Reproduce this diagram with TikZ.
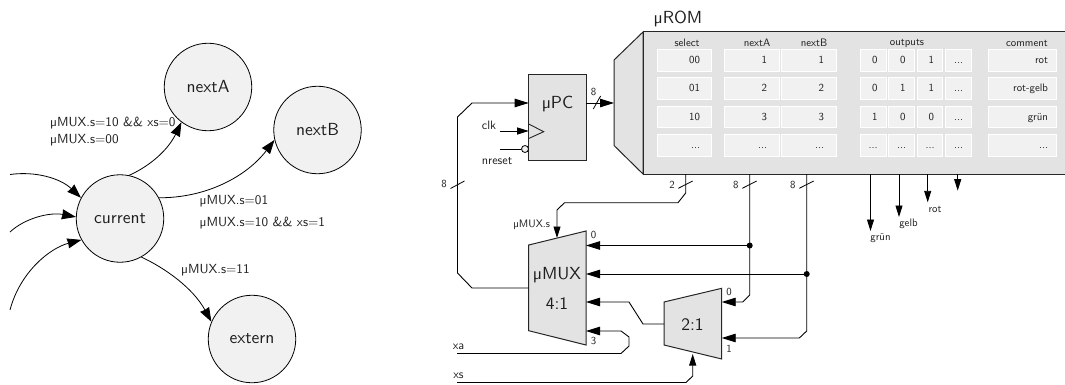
\documentclass[tikz,border=0pt]{standalone}
\usepackage{fontspec}
\usetikzlibrary{arrows.meta}
\setsansfont{lmsans10-regular.otf}
\renewcommand{\familydefault}{\sfdefault}
\definecolor{lightfill}{HTML}{F1F1F1}
\definecolor{blockfill}{HTML}{E3E3E3}
\definecolor{inkgray}{HTML}{1E1E1E}
\newcommand{\fs}[1]{\fontsize{#1}{#1}\selectfont}
\newcommand{\ddd}{...}
\tikzset{
  state/.style={circle,draw=black,fill=lightfill,line width=0.8pt,minimum size=87.5pt,inner sep=0pt,font=\fs{17.5},text=inkgray},
  arr/.style={line width=0.8pt,-{Stealth[length=14pt,width=10pt,inset=0.5pt]}},
  wire/.style={line width=0.9pt},
  wirearr/.style={line width=0.9pt,-{Stealth[length=14pt,width=8.5pt,inset=0pt]}},
  thinarr/.style={line width=0.9pt,-{Stealth[length=11.5pt,width=7pt,inset=0pt]}},
  block/.style={draw=black!85,fill=blockfill,line width=1pt},
  txt/.style={inner sep=0pt,text=inkgray},
  edgetxt/.style={txt,anchor=west,font=\fs{13.2}},
  small/.style={txt,font=\fs{10.8}},
  mid/.style={txt,font=\fs{12.2}},
  big/.style={txt,font=\fs{17.5}},
  cellbox/.style={draw=white,fill=lightfill,line width=0.8pt,inner sep=0pt,minimum height=21.5pt,text=inkgray,font=\fs{10.8},align=right,text height=7pt,text depth=0pt},
  dot/.style={circle,fill=black,inner sep=0pt,minimum size=6pt},
  slash/.style={line width=0.8pt},
}
% name, left, right, row y, padding, text
\newcommand{\romcell}[6]{%
  \pgfmathsetmacro{\cw}{#3-#2}\pgfmathsetmacro{\cx}{(#3+#2)/2}\pgfmathsetmacro{\ct}{#3-#2-2*#5}%
  \node[cellbox,minimum width=\cw pt,text width=\ct pt] (#1) at (\cx,#4) {#6};}
\begin{document}
\begin{tikzpicture}[x=1pt,y=-1pt]
\useasboundingbox (0,0) rectangle (1065,385);
% ---------- state graph
\node[state] (nextA) at (208,87) {nextA};
\node[state] (nextB) at (317.5,130) {nextB};
\node[state] (current) at (120,218.5) {current};
\node[state] (extern) at (252,339) {extern};
\coordinate (in1) at (10,174.5);
\coordinate (in2) at (10,232);
\coordinate (in3) at (10,310);
\draw[arr] (current.78) .. controls (150,166) and (168,150) .. (nextA.233);
\draw[arr] (current.28) .. controls (207,198) and (247,176) .. (nextB.193);
\draw[arr] (current.-61) .. controls (165,268) and (193,288) .. (extern.157);
\draw[arr] (in1) .. controls (35,171) and (60,178) .. (current.152);
\draw[arr] (in2) .. controls (25,218) and (50,212) .. (current.178);
\draw[arr] (in3) .. controls (20,272) and (50,248) .. (current.209);
\node[edgetxt] (la) at (50,123) {µMUX.s=10 \&\& xs=0};
\node[edgetxt] (lb) at (50,140) {µMUX.s=00};
\node[edgetxt] (lc) at (199.5,201.5) {µMUX.s=01};
\node[edgetxt] (ld) at (199.5,223.5) {µMUX.s=10 \&\& xs=1};
\node[edgetxt] (le) at (181,270) {µMUX.s=11};
% ---------- ROM
\draw[block] (643,32) -- (614,60) -- (614,145.5) -- (643,174) -- cycle;
\coordinate (romin) at (614,103);
\fill[blockfill] (643,32) rectangle (1065,174);
\draw[line width=1pt,draw=black!85] (1066,32) -- (643,32) -- (643,174) -- (1066,174);
\node[big] (romtitle) at (678,19) {µROM};
\foreach \n/\x in {select/687,nextA/757,nextB/814,outputs/907,comment/1027}
  \node[small] (h\n) at (\x,43) {\n};
\foreach \r/\y/\a/\b/\c/\d/\e/\f/\g/\h in {
  1/60.5/00/1/1/0/0/1/\ddd/rot,
  2/88.5/01/2/2/0/1/1/\ddd/rot-gelb,
  3/117/10/3/3/1/0/0/\ddd/grün,
  4/145.5/\ddd/\ddd/\ddd/\ddd/\ddd/\ddd/\ddd/\ddd}{
  \romcell{sel\r}{657}{711}{\y}{11}{\a}
  \romcell{na\r}{724}{779}{\y}{12}{\b}
  \romcell{nb\r}{781}{836}{\y}{12}{\c}
  \romcell{oa\r}{860}{886}{\y}{8.5}{\d}
  \romcell{ob\r}{888.5}{914}{\y}{8.5}{\e}
  \romcell{oc\r}{917}{942.5}{\y}{8.5}{\f}
  \romcell{od\r}{945}{971}{\y}{8}{\g}
  \romcell{cm\r}{988}{1056.5}{\y}{8.5}{\h}
}
% ---------- uPC
\node[block,minimum width=57.5pt,minimum height=85.5pt,inner sep=0pt,anchor=north west,outer sep=0pt] (pc) at (528.7,74.5) {};
\node[big] (pctxt) at (557.5,104.5) {µPC};
\draw[line width=0.9pt,draw=black!85] (528.7,124) coordinate (clkt) -- (543.7,131.7) -- (528.7,138.5);
\node[circle,draw=black,fill=lightfill,line width=0.8pt,minimum size=7pt,inner sep=0pt] (nrc) at (525,149) {};
\coordinate (clks) at (500,131);
\coordinate (clke) at (528.7,131);
\coordinate (nrs) at (500,149);
\draw[thinarr] (clks) -- (clke);
\draw[wire] (nrs) -- (nrc);
\node[mid] (clk) at (489,125.5) {clk};
\node[mid] (nres) at (497,161.5) {nreset};
\coordinate (pcout) at (586,103);
\draw[wirearr] (pcout) -- (romin);
\draw[slash] (593.3,109) -- (600.6,96);
\node[small] (n8a) at (593.5,92) {8};
% ---------- uMUX
\draw[block] (528.7,245) coordinate (mtl) -- (586,231) -- (586,345) -- (528.7,330.7) -- cycle;
\node[big] (muxa) at (557,275.5) {µMUX};
\node[big] (muxb) at (557,303.5) {4:1};
\node[small] (m0) at (593.5,234.5) {0};
\node[small] (m3) at (593.5,341) {3};
% ---------- 2:1
\draw[block] (664,302) -- (721.7,288.3) -- (721.7,359) -- (664,345) -- cycle;
\node[big] (smux) at (692.5,325) {2:1};
\node[small] (s0) at (729,292) {0};
\node[small] (s1) at (729,349) {1};
% ---------- wiring
\coordinate (m0in) at (586,245.5);
\coordinate (m1in) at (586,274);
\coordinate (m2in) at (586,302);
\coordinate (m3in) at (586,331);
\coordinate (s0in) at (721.7,302);
\coordinate (s1in) at (721.7,338);
\node[dot] (d1) at (749.7,245.5) {};
\node[dot] (d2) at (806.7,274) {};
\coordinate (r2) at (685.7,174);
\coordinate (rA) at (749.7,174);
\coordinate (rB) at (806.7,174);
% feedback
\draw[wirearr] (528.7,288) coordinate (mout) -- (472,288) -- (457.5,273) -- (457.5,117) -- (472,103) -- (528.7,103) coordinate (pcin);
\draw[slash] (450.5,188.5) -- (464.5,181);
\node[small] (n8b) at (444,184) {8};
% select
\draw[thinarr] (r2) -- (685.7,193) -- (678,202.7) -- (564.5,202.7) -- (557,210) -- (557,238) coordinate (msel);
\draw[slash] (678.3,188.3) -- (692.7,181);
\node[small] (n2) at (672,184.5) {2};
\node[small] (msl) at (531.7,225) {µMUX.s};
% nextA / nextB
\draw[wirearr] (rA) -- (749.7,295) -- (742.7,302) -- (s0in);
\draw[slash] (742.3,188.3) -- (756.7,181);
\node[small] (n8c) at (735.7,184.5) {8};
\draw[wirearr] (rB) -- (806.7,331) -- (799.3,338) -- (s1in);
\draw[slash] (799.3,188.3) -- (813.7,181);
\node[small] (n8d) at (792.7,184.5) {8};
\draw[wirearr] (d1) -- (m0in);
\draw[wirearr] (d2) -- (m1in);
\draw[wirearr] (664,324) coordinate (sout) -- (643,324) -- (629,302) -- (m2in);
% xa, xs
\coordinate (xas) at (457,353.5);
\coordinate (xss) at (457,382.5);
\draw[wirearr] (xas) -- (621,353.5) -- (629,346) -- (629,337) -- (621,331) -- (m3in);
\draw[thinarr] (xss) -- (686,382.5) -- (692.7,376) -- (692.7,354) coordinate (ssel);
\node[mid] (xa) at (458.5,347) {xa};
\node[mid] (xs) at (458.5,376) {xs};
% outputs
\foreach \n/\x/\y in {og/870.5/231,oh/899/217,oi/927.7/202.3,oj/957.7/190.7}{
  \coordinate (\n s) at (\x,174);
  \coordinate (\n e) at (\x,\y);
  \draw[thinarr] (\n s) -- (\n e);
}
\node[small] (gr) at (880.5,238) {grün};
\node[small] (ge) at (908.5,224) {gelb};
\node[small] (ro) at (935,209) {rot};
\end{tikzpicture}
\end{document}
